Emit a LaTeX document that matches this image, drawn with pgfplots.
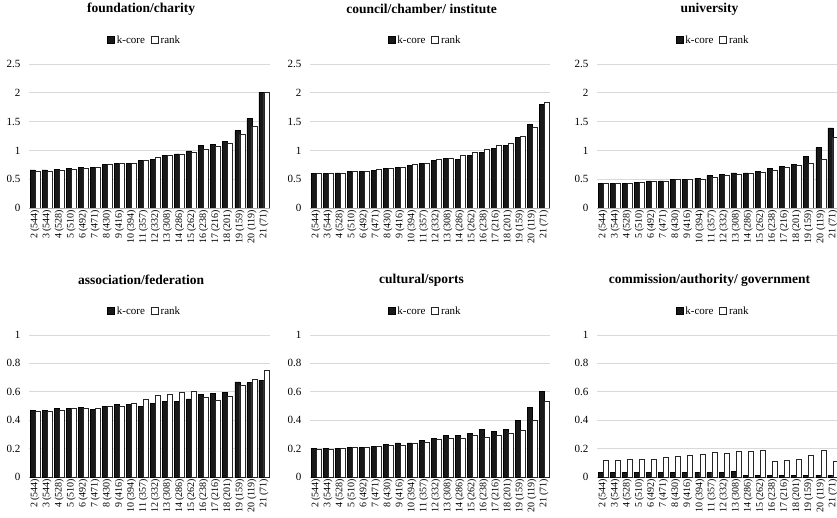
\documentclass[border=0pt]{standalone}
\usepackage{fontspec}
\setmainfont{Liberation Serif}
\usepackage{pgfplots}
\pgfplotsset{compat=1.18}
\usepackage{pgfplotstable}

% k-core vs rank, 20 groups per panel
\pgfplotstableread{
x kcore rank
0 0.66 0.63
1 0.66 0.63
2 0.67 0.65
3 0.69 0.67
4 0.70 0.69
5 0.70 0.71
6 0.75 0.75
7 0.77 0.77
8 0.78 0.78
9 0.82 0.83
10 0.85 0.88
11 0.91 0.92
12 0.94 0.94
13 0.99 0.97
14 1.08 1.02
15 1.10 1.07
16 1.15 1.13
17 1.34 1.28
18 1.55 1.41
19 2.01 2.00
}\foundation

\pgfplotstableread{
x kcore rank
0 0.60 0.60
1 0.60 0.60
2 0.61 0.61
3 0.63 0.63
4 0.64 0.64
5 0.65 0.67
6 0.69 0.69
7 0.71 0.71
8 0.74 0.75
9 0.78 0.78
10 0.82 0.84
11 0.86 0.87
12 0.85 0.92
13 0.91 0.96
14 0.96 1.02
15 1.03 1.08
16 1.08 1.13
17 1.23 1.25
18 1.45 1.40
19 1.80 1.83
}\council

\pgfplotstableread{
x kcore rank
0 0.43 0.42
1 0.43 0.42
2 0.43 0.43
3 0.45 0.45
4 0.47 0.46
5 0.47 0.47
6 0.49 0.49
7 0.50 0.50
8 0.52 0.50
9 0.56 0.53
10 0.59 0.56
11 0.61 0.58
12 0.61 0.60
13 0.64 0.62
14 0.69 0.65
15 0.72 0.70
16 0.75 0.74
17 0.90 0.78
18 1.05 0.85
19 1.39 1.22
}\university

\pgfplotstableread{
x kcore rank
0 0.47 0.46
1 0.47 0.46
2 0.48 0.47
3 0.48 0.48
4 0.49 0.48
5 0.475 0.48
6 0.50 0.50
7 0.51 0.50
8 0.51 0.52
9 0.50 0.545
10 0.52 0.575
11 0.535 0.585
12 0.535 0.595
13 0.55 0.60
14 0.58 0.56
15 0.59 0.54
16 0.595 0.57
17 0.67 0.645
18 0.665 0.69
19 0.68 0.75
}\association

\pgfplotstableread{
x kcore rank
0 0.20 0.195
1 0.20 0.195
2 0.20 0.20
3 0.21 0.21
4 0.21 0.21
5 0.215 0.215
6 0.23 0.22
7 0.24 0.225
8 0.24 0.235
9 0.26 0.245
10 0.27 0.265
11 0.29 0.27
12 0.295 0.275
13 0.305 0.29
14 0.335 0.28
15 0.32 0.295
16 0.335 0.31
17 0.40 0.33
18 0.49 0.40
19 0.60 0.53
}\cultural

\pgfplotstableread{
x kcore rank
0 0.03 0.12
1 0.03 0.12
2 0.03 0.125
3 0.03 0.125
4 0.03 0.125
5 0.03 0.135
6 0.03 0.145
7 0.03 0.15
8 0.03 0.16
9 0.03 0.175
10 0.035 0.17
11 0.04 0.18
12 0.01 0.18
13 0.01 0.185
14 0.01 0.11
15 0.01 0.12
16 0.01 0.125
17 0.01 0.155
18 0.01 0.185
19 0.01 0.11
}\commission

\pgfplotsset{
  panel/.style={
    scale only axis,
    anchor=south west,
    ybar=0pt, bar width=5pt,
    xmin=-0.5, xmax=19.5, ymin=0,
    xtick={0,...,19},
    xticklabels={2 (544),3 (544),4 (528),5 (510),6 (492),7 (471),8 (430),9 (416),10 (394),11 (357),12 (332),13 (308),14 (286),15 (262),16 (238),17 (216),18 (201),19 (159),20 (119),21 (71)},
    xticklabel style={rotate=90, anchor=east, font=\fontsize{10}{11}\selectfont, inner sep=1.5pt},
    yticklabel style={font=\fontsize{11}{12}\selectfont, xshift=-5pt},
    /pgf/number format/assume math mode=true,
    major tick length=0pt,
    axis x line*=bottom,
    axis y line*=left,
    y axis line style={draw=none},
    x axis line style={draw=black!30, line width=0.8pt, -},
    ymajorgrids, grid style={black!15, line width=0.7pt},
    title style={at={(0.465,1)}, anchor=center, yshift=49pt, font=\fontsize{13.5}{15}\selectfont\bfseries},
    legend style={at={(0.48,1)}, anchor=center, yshift=24pt, draw=none, fill=none,
      font=\fontsize{11}{12}\selectfont, inner sep=0pt,
      /tikz/every even column/.append style={column sep=4pt}},
    legend columns=2,
    legend image code/.code={\draw[#1, line width=0.7pt] (0pt,-3.5pt) rectangle (7pt,3.5pt);},
  },
  toprow/.style={ymax=2.5, ytick={0,0.5,1,1.5,2,2.5}, height=144pt},
  botrow/.style={ymax=1, ytick={0,0.2,0.4,0.6,0.8,1}, height=142pt},
  kcore/.style={fill=black!90, draw=black, line width=0.7pt},
  rank/.style={fill=white, draw=black!85, line width=0.7pt},
}

\newcommand{\bars}[1]{%
  \addplot[kcore] table[x=x, y=kcore] {#1};
  \addlegendentry{k-core}
  \addplot[rank] table[x=x, y=rank] {#1};
  \addlegendentry{rank}
}

\begin{document}
\begin{tikzpicture}
\useasboundingbox (0pt,0pt) rectangle (837pt,517pt);

\begin{axis}[panel, toprow, at={(29pt,309pt)}, width=241pt, title={foundation/charity}]
\bars{\foundation}
\end{axis}

\begin{axis}[panel, toprow, at={(310pt,309pt)}, width=240pt, title={council/chamber/ institute}]
\bars{\council}
\end{axis}

\begin{axis}[panel, toprow, at={(597pt,309pt)}, width=242pt, title={university}]
\bars{\university}
\end{axis}

\begin{axis}[panel, botrow, at={(29pt,40pt)}, width=241pt, title={association/federation}]
\bars{\association}
\end{axis}

\begin{axis}[panel, botrow, at={(310pt,40pt)}, width=240pt, title={cultural/sports}]
\bars{\cultural}
\end{axis}

\begin{axis}[panel, botrow, at={(597pt,40pt)}, width=242pt, title={commission/authority/ government}]
\bars{\commission}
\end{axis}

\end{tikzpicture}
\end{document}
